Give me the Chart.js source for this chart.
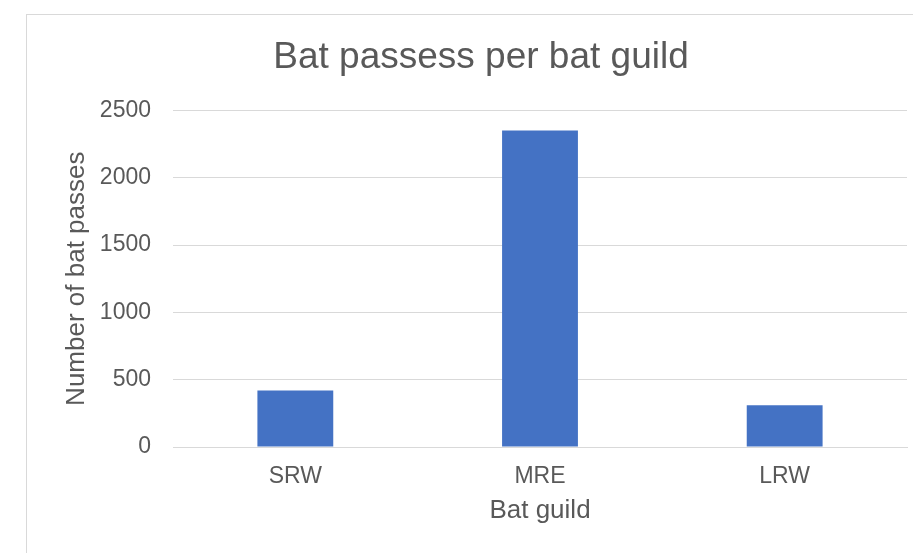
<!DOCTYPE html>
<html lang="en">
<head>
    <meta charset="UTF-8">
    <title>Bat passess per bat guild</title>
    <script src="https://cdn.jsdelivr.net/npm/chart.js"></script>
    <style>
        body { margin: 0; background: #fff; }
        #frame {
            position: absolute; left: 26px; top: 14px;
            width: 920px; height: 600px;
            border: 1px solid #d9d9d9;
        }
        #wrap { position: absolute; left: 0; top: 0; width: 913px; height: 553px; }
    </style>
</head>
<body>
    <div id="frame"></div>
    <div id="wrap"><canvas id="guildChart" width="913" height="553"></canvas></div>

    <script>
        // Bat passes counted per guild
        const guilds = ['SRW', 'MRE', 'LRW'];
        const passes = [420, 2350, 310];
        const yTicks = [0, 500, 1000, 1500, 2000, 2500];

        const textColor = '#595959';
        const gridColor = '#d9d9d9';
        Chart.defaults.font.family = '"Liberation Sans", Arial, sans-serif';
        Chart.defaults.color = textColor;

        const ctx = document.getElementById('guildChart').getContext('2d');
        new Chart(ctx, {
            type: 'bar',
            data: {
                labels: guilds,
                datasets: [{
                    label: 'Number of bat passes',
                    data: passes,
                    backgroundColor: '#4472c4',
                    categoryPercentage: 1,
                    barPercentage: 0.31
                }]
            },
            options: {
                responsive: false,
                animation: false,
                layout: { padding: { left: 55, right: 6, top: 0, bottom: 0 } },
                plugins: {
                    legend: { display: false },
                    tooltip: { enabled: false },
                    title: {
                        display: true,
                        text: 'Bat passess per bat guild',
                        color: textColor,
                        font: { size: 37, weight: 'normal' },
                        padding: { top: 36, bottom: 30 }
                    }
                },
                scales: {
                    x: {
                        grid: { display: false },
                        border: { display: true, color: gridColor },
                        ticks: { font: { size: 23 }, padding: 8, color: textColor },
                        title: {
                            display: true,
                            text: 'Bat guild',
                            color: textColor,
                            font: { size: 26 },
                            padding: { top: 4, bottom: 27 }
                        },
                        afterFit: s => { s.height = 553 - 447; }
                    },
                    y: {
                        min: 0,
                        max: 2500,
                        afterBuildTicks: s => { s.ticks = yTicks.map(v => ({ value: v })); },
                        grid: { color: gridColor, drawTicks: false },
                        border: { display: false },
                        ticks: {
                            font: { size: 23 },
                            padding: 22,
                            color: textColor,
                            callback: v => String(v)
                        },
                        title: {
                            display: true,
                            text: 'Number of bat passes',
                            color: textColor,
                            font: { size: 26 },
                            padding: { top: 6, bottom: 0 }
                        },
                        afterFit: s => { s.width = 173 - 55; }
                    }
                }
            }
        });
    </script>
</body>
</html>
